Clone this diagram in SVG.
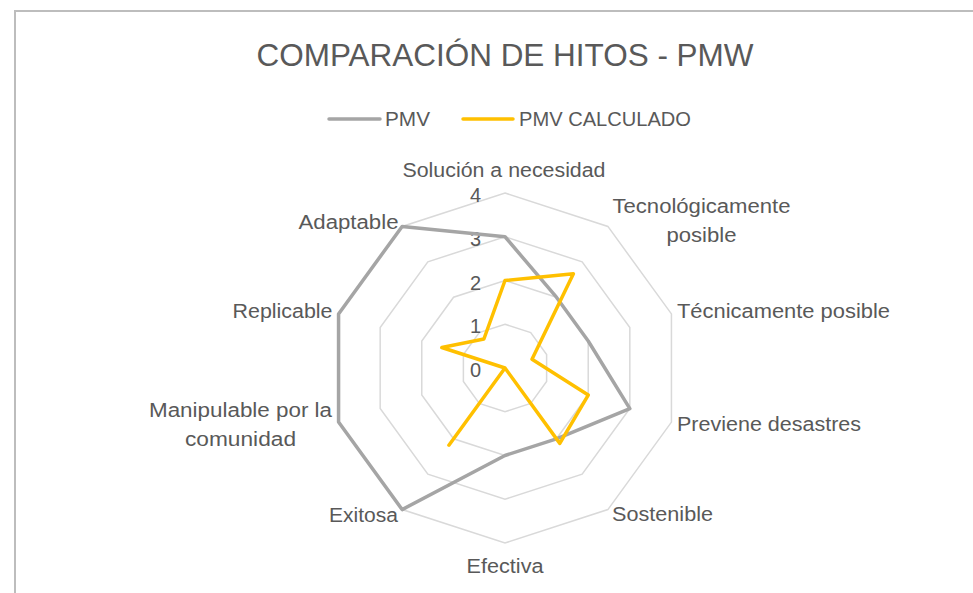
<svg xmlns="http://www.w3.org/2000/svg" width="973" height="593" viewBox="0 0 973 593">
<style>
  text { font-family: "Liberation Sans", Arial, sans-serif; fill: #595959; }
  .lbl { font-size: 20px; }
  .num { font-size: 20px; text-anchor: end; }
  .grid { fill: none; stroke: #d9d9d9; stroke-width: 1.5; }
  .s1 { fill: none; stroke: #a5a5a5; stroke-width: 3.5; stroke-linejoin: round; }
  .s2 { fill: none; stroke: #ffc000; stroke-width: 3.5; stroke-linejoin: round; }
</style>
<rect x="0" y="0" width="973" height="593" fill="#ffffff"/>
<path d="M15,593 V11 H973" fill="none" stroke="#bdbdbd" stroke-width="2"/>
<g id="title">
  <text x="505" y="66" font-size="32" text-anchor="middle" textLength="497" lengthAdjust="spacingAndGlyphs">COMPARACIÓN DE HITOS - PMW</text>
</g>
<g id="legend">
  <line x1="329" y1="119" x2="380" y2="119" stroke="#a5a5a5" stroke-width="3.5" stroke-linecap="round"/>
  <text x="385" y="126" font-size="20" textLength="45" lengthAdjust="spacingAndGlyphs">PMV</text>
  <line x1="463" y1="119" x2="513" y2="119" stroke="#ffc000" stroke-width="3.5" stroke-linecap="round"/>
  <text x="519" y="126" font-size="20" textLength="172" lengthAdjust="spacingAndGlyphs">PMV CALCULADO</text>
</g>
<g id="grid">
  <polygon class="grid" points="505,193 607.87,226.42 671.44,313.92 671.44,422.08 607.87,509.58 505,543 402.13,509.58 338.56,422.08 338.56,313.92 402.13,226.42"/>
  <polygon class="grid" points="505,236.75 582.15,261.82 629.83,327.44 629.83,408.56 582.15,474.18 505,499.25 427.85,474.18 380.17,408.56 380.17,327.44 427.85,261.82"/>
  <polygon class="grid" points="505,280.5 556.43,297.21 588.22,340.96 588.22,395.04 556.43,438.79 505,455.5 453.57,438.79 421.78,395.04 421.78,340.96 453.57,297.21"/>
  <polygon class="grid" points="505,324.25 530.72,332.61 546.61,354.48 546.61,381.52 530.72,403.39 505,411.75 479.28,403.39 463.39,381.52 463.39,354.48 479.28,332.61"/>
</g>
<g id="axis-numbers">
  <text class="num" x="481" y="377">0</text>
  <text class="num" x="481" y="333">1</text>
  <text class="num" x="481" y="289.5">2</text>
  <text class="num" x="481" y="245.5">3</text>
  <text class="num" x="481" y="202">4</text>
</g>
<g id="connectors">
  <polygon id="series-pmv" class="s1" points="505,236.75 556.43,297.21 588.22,340.96 629.83,408.56 556.43,438.79 505,455.5 402.13,509.58 338.56,422.08 338.56,313.92 402.13,226.42"/>
  <polygon id="series-pmv-calculado" class="s2" points="505,280.5 573.4,273.8 532,359.2 588.22,395.04 559.8,443.4 505,368 448.9,445.2 505,368 441.8,347.5 483.9,339"/>
</g>
<g id="node-solucion"><text class="lbl" x="504" y="177" text-anchor="middle" textLength="203" lengthAdjust="spacingAndGlyphs">Solución a necesidad</text></g>
<g id="node-tecnologicamente">
  <text class="lbl" x="701.5" y="213" text-anchor="middle" textLength="178" lengthAdjust="spacingAndGlyphs">Tecnológicamente</text>
  <text class="lbl" x="701.5" y="242" text-anchor="middle" textLength="70" lengthAdjust="spacingAndGlyphs">posible</text>
</g>
<g id="node-tecnicamente"><text class="lbl" x="677" y="318" textLength="213" lengthAdjust="spacingAndGlyphs">Técnicamente posible</text></g>
<g id="node-previene"><text class="lbl" x="677" y="431" textLength="184" lengthAdjust="spacingAndGlyphs">Previene desastres</text></g>
<g id="node-sostenible"><text class="lbl" x="612" y="521" textLength="101" lengthAdjust="spacingAndGlyphs">Sostenible</text></g>
<g id="node-efectiva"><text class="lbl" x="505" y="573" text-anchor="middle" textLength="77" lengthAdjust="spacingAndGlyphs">Efectiva</text></g>
<g id="node-exitosa"><text class="lbl" x="398" y="522" text-anchor="end" textLength="69" lengthAdjust="spacingAndGlyphs">Exitosa</text></g>
<g id="node-manipulable">
  <text class="lbl" x="240.5" y="417" text-anchor="middle" textLength="183" lengthAdjust="spacingAndGlyphs">Manipulable por la</text>
  <text class="lbl" x="240.5" y="446" text-anchor="middle" textLength="111" lengthAdjust="spacingAndGlyphs">comunidad</text>
</g>
<g id="node-replicable"><text class="lbl" x="332.5" y="318" text-anchor="end" textLength="100" lengthAdjust="spacingAndGlyphs">Replicable</text></g>
<g id="node-adaptable"><text class="lbl" x="398.5" y="229" text-anchor="end" textLength="100" lengthAdjust="spacingAndGlyphs">Adaptable</text></g>
</svg>
